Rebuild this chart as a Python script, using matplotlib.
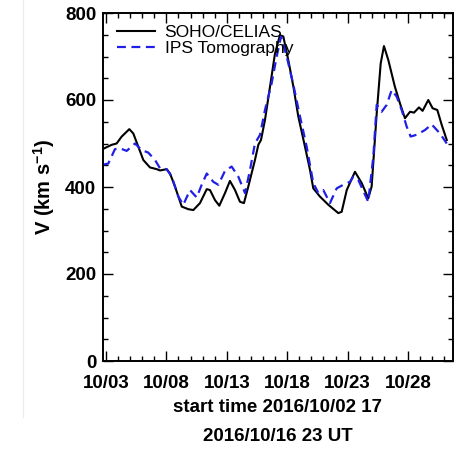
import matplotlib
matplotlib.use("Agg")
import matplotlib.pyplot as plt
from matplotlib.lines import Line2D
import numpy as np

# time axis: days since start time 2016/10/02 17 UT
soho_days = [0.0, 0.76, 1.17, 1.59, 2.22, 2.55, 2.96, 3.38, 3.93, 4.49, 4.76,
             5.31, 5.59, 6.0, 6.56, 7.1, 7.52, 8.07, 8.63, 8.9, 9.31, 9.67,
             10.14, 10.55, 10.97, 11.38, 11.71, 12.07, 12.62, 12.9, 13.12,
             13.45, 13.87, 14.28, 14.69, 14.97, 15.38, 15.8, 16.21, 16.76,
             17.18, 17.45, 18.0, 18.7, 19.52, 19.8, 20.22, 20.9, 21.46, 22.0,
             22.28, 22.7, 23.03, 23.3, 23.66, 24.2, 24.63, 25.04, 25.46, 25.79,
             26.2, 26.5, 26.97, 27.33, 27.72, 28.08, 28.5]
soho_vel = [487, 497, 500, 516, 533, 523, 493, 462, 445, 441, 438,
            441, 431, 401, 355, 349, 347, 363, 395, 393, 370, 357,
            386, 414, 393, 366, 363, 401, 462, 497, 508,
            554, 631, 707, 749, 746, 692, 631, 562, 493,
            439, 397, 378, 359, 340, 343, 393, 435, 409, 374,
            401, 569, 684, 724, 692, 631, 592, 558, 573, 571,
            583, 575, 600, 581, 577, 543, 508]

ips_days = [0.0, 0.48, 1.03, 1.45, 2.0, 2.69, 3.24, 3.79, 4.35, 4.76, 5.31,
            5.73, 6.28, 6.69, 7.24, 7.8, 8.21, 8.63, 9.17, 9.59, 10.14, 10.69,
            11.24, 11.8, 12.21, 12.62, 13.04, 13.45, 14.0, 14.42, 14.78, 15.25,
            15.8, 16.35, 16.9, 17.45, 17.87, 18.28, 18.83, 19.39, 19.93, 20.49,
            20.76, 21.18, 22.0, 22.42, 22.7, 23.11, 23.53, 23.94, 24.35, 24.77,
            25.18, 25.51, 26.0, 26.7, 27.25, 27.94, 28.5]
ips_vel = [451, 454, 487, 489, 483, 500, 485, 479, 462, 443, 441,
           424, 378, 359, 393, 376, 405, 431, 412, 405, 437, 447,
           424, 386, 439, 500, 520, 577, 638, 700, 746, 700,
           635, 562, 493, 409, 386, 393, 363, 397, 405, 412,
           424, 416, 366, 470, 589, 573, 589, 623, 608, 577,
           539, 516, 520, 531, 544, 523, 500]

tick_days = [7 / 24 + 5 * k for k in range(6)]
tick_labels = ["10/03", "10/08", "10/13", "10/18", "10/23", "10/28"]

plt.rcParams["font.family"] = ["Liberation Sans", "DejaVu Sans"]
plt.rcParams["mathtext.default"] = "regular"

fig = plt.figure(figsize=(4.54, 4.49), dpi=100)
ax = fig.add_axes([102.5 / 454, 1 - 361 / 449, 350.3 / 454, 348 / 449])

ax.plot(soho_days, soho_vel, color="black", lw=1.5, label="SOHO/CELIAS")
ax.plot(ips_days, ips_vel, color="#1f1fe6", lw=1.6, dashes=(4, 2.5),
        label="IPS Tomography")

ax.set_xlim(0, 29)
ax.set_ylim(0, 800)
ax.set_xticks(tick_days)
ax.set_xticklabels(tick_labels)
ax.set_xticks(np.arange(7 / 24, 29, 1.0), minor=True)
ax.set_yticks([0, 200, 400, 600, 800])
ax.set_yticks(np.arange(0, 801, 50), minor=True)

ax.tick_params(which="both", direction="in", top=True, right=True,
               labelsize=13.5, width=1.0)
ax.tick_params(which="major", length=7)
ax.tick_params(which="minor", length=3.5)
ax.tick_params(axis="x", pad=10)
ax.tick_params(axis="y", pad=4.5)
for lbl in ax.get_xticklabels() + ax.get_yticklabels():
    lbl.set_fontweight("bold")
for sp in ax.spines.values():
    sp.set_linewidth(1.4)

ax.set_xlabel("start time 2016/10/02 17\n2016/10/16 23 UT", fontsize=13.5,
              fontweight="bold", linespacing=1.9, labelpad=5)
ax.set_ylabel(r"V (km s$^{-1}$)", fontsize=14.5, fontweight="bold", labelpad=6)

ax.legend(loc="upper left", bbox_to_anchor=(0.04, 0.966), frameon=False,
          borderaxespad=0, borderpad=0, fontsize=12.5, handlelength=2.2,
          handletextpad=0.57, labelspacing=0.06)

# faint panel border left of the plot
fig.add_artist(Line2D([23 / 454, 23 / 454], [1 - 417 / 449, 1.0],
                      color="#ececec", lw=0.8))

fig.savefig("out.png", dpi=100)
